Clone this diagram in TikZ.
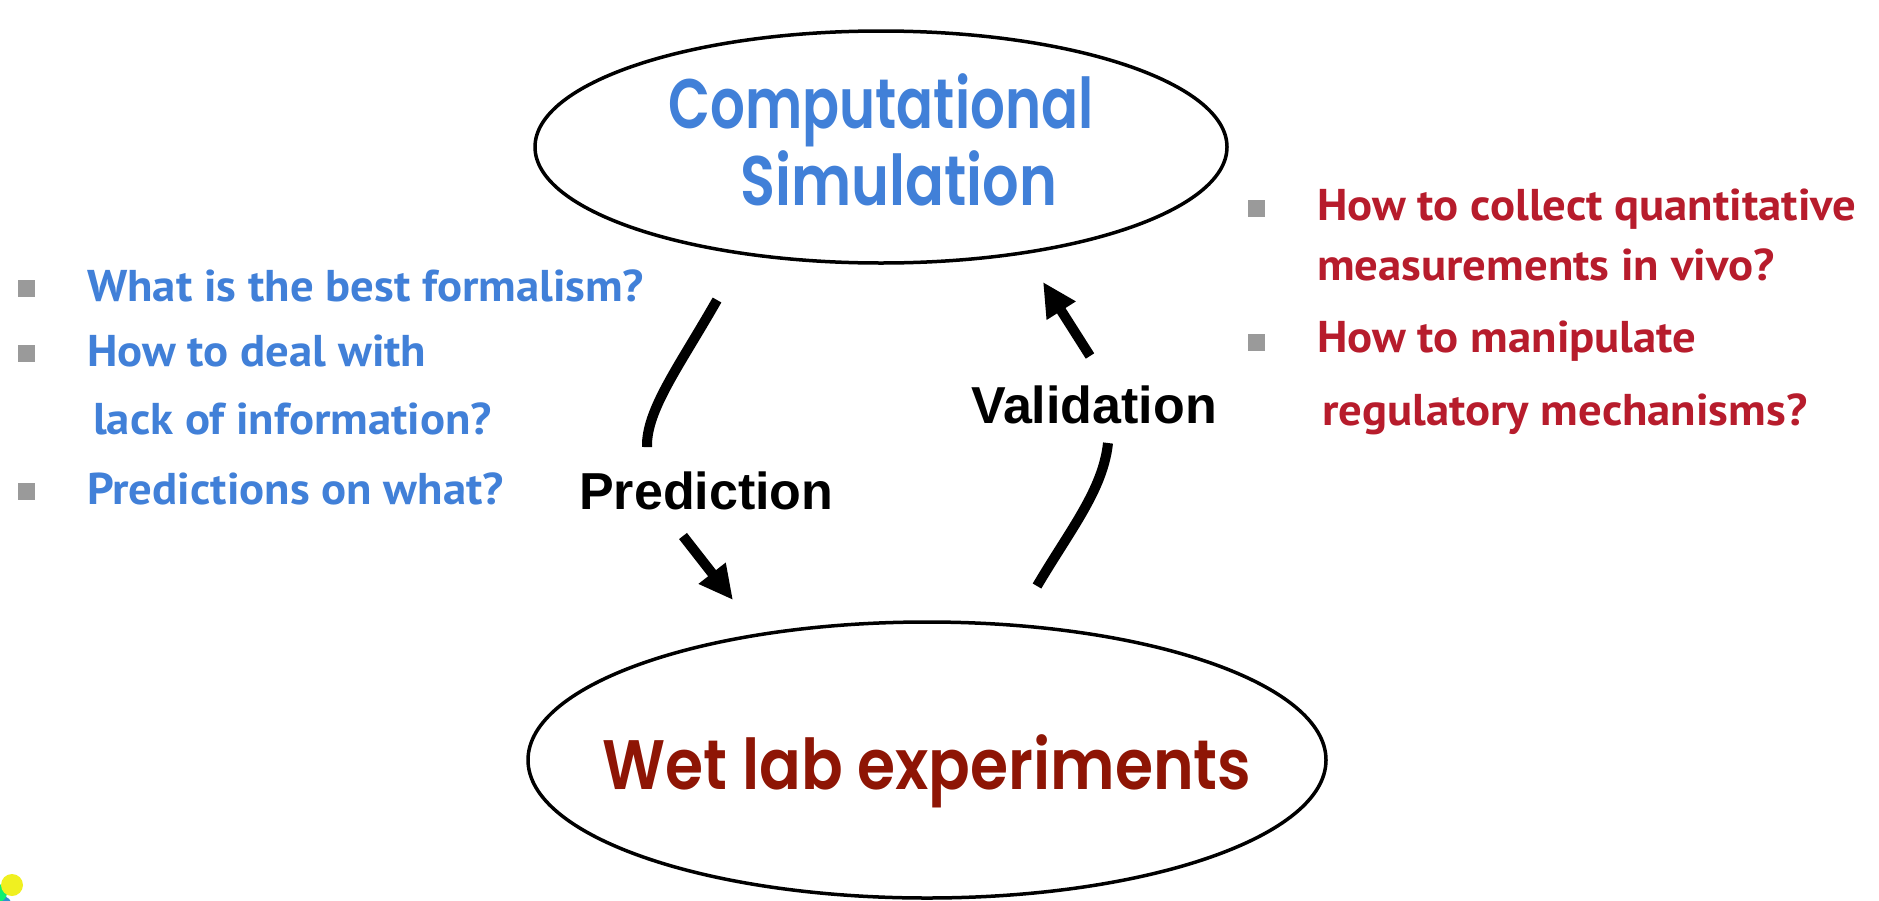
\documentclass[tikz,border=0pt]{standalone}
\usepackage{fontspec}
\setmainfont{PT Sans}
\newfontfamily\qfamily{PT Sans}[FakeStretch=1.05]
\newfontfamily\arialf{Liberation Sans}
\newfontfamily\comicf{Poppins SemiBold}
\usetikzlibrary{arrows.meta,shapes.geometric}
\definecolor{qblue}{HTML}{4180D8}
\definecolor{qred}{HTML}{B71C2C}
\definecolor{wetred}{HTML}{8E1505}
\definecolor{bulletgray}{HTML}{9A9A9A}
\definecolor{dotyellow}{HTML}{F0F020}
\definecolor{dotgreen}{HTML}{10F070}
\definecolor{dotblue}{HTML}{2F8FD0}
\newcommand\qfont{\qfamily\bfseries\fontsize{44.5}{50}\selectfont}
\newcommand\lblfont{\arialf\bfseries\fontsize{52}{60}\selectfont}
\begin{document}
\begin{tikzpicture}[x=1pt,y=-1pt,
  oval/.style={draw=black,line width=3.5pt,ellipse,inner sep=0pt,align=center},
  bul/.style={fill=bulletgray,minimum size=17pt,inner sep=0pt,draw=none},
  qleft/.style={anchor=base west,inner sep=0pt,text=qblue,font=\qfont},
  qright/.style={anchor=base west,inner sep=0pt,text=qred,font=\qfont},
  lbl/.style={anchor=base west,inner sep=0pt,font=\lblfont},
  flow/.style={line width=10pt,draw=black},
  flowhead/.style={flow,-{Triangle[length=34pt,width=32pt]}}
]
\useasboundingbox (0,0) rectangle (1879,900);
\fill[white] (0,0) rectangle (1879,900);

% ellipses
\node[oval,minimum width=692pt,minimum height=232pt,text=qblue,
      font=\comicf\fontsize{70}{77}\selectfont] (sim) at (881,147)
  {\makebox[0pt]{\scalebox{0.78}[1]{Computational}}\\\makebox[0pt]{\hspace{36pt}\scalebox{0.82}[1]{Simulation}}\rule[-15pt]{0pt}{0pt}};
\node[oval,minimum width=798pt,minimum height=276pt,text=wetred,
      font=\comicf\fontsize{70}{77}\selectfont] (wet) at (927,760)
  {\rule{0pt}{77pt}\makebox[0pt]{\scalebox{0.88}[1]{Wet lab experiments}}};

% labels
\node[lbl] (pred) at (579,509) {Prediction};
\node[lbl] (val) at (971,423) {Validation};

% arrow end points
\coordinate (p1) at (717,300);
\coordinate (p2) at (647,447);
\coordinate (p3) at (683,536);
\coordinate (p4) at (733,600);
\coordinate (v1) at (1037,586);
\coordinate (v2) at (1108,443);
\coordinate (v3) at (1090,356);
\coordinate (v4) at (1043,282);

\draw[flow] (p1) .. controls (680,365) and (646,410) .. (p2);
\draw[flowhead] (p3) -- (p4);
\draw[flow] (v1) .. controls (1070,530) and (1103,490) .. (v2);
\draw[flowhead] (v3) -- (v4);

% left questions
\node[bul] (lb1) at (26,288) {};
\node[bul] (lb2) at (26,353) {};
\node[bul] (lb3) at (26,491) {};
\node[qleft] (lq1) at (87,301) {What is the best formalism?};
\node[qleft] (lq2) at (87,366) {How to deal with};
\node[qleft] (lq3) at (93,434) {lack of information?};
\node[qleft] (lq4) at (87,504) {Predictions on what?};

% right questions
\node[bul] (rb1) at (1256,208) {};
\node[bul] (rb2) at (1256,342) {};
\node[qright] (rq1) at (1317,220) {How to collect quantitative};
\node[qright] (rq2) at (1317,280) {measurements in vivo?};
\node[qright] (rq3) at (1317,352) {How to manipulate};
\node[qright] (rq4) at (1322,425) {regulatory mechanisms?};

% corner dots
\begin{scope}
\clip (0,0) rectangle (1879,900);
\fill[dotblue] (2,906) circle (10);
\fill[dotgreen] (-2,893) circle (9);
\fill[dotyellow] (12,885) circle (11);
\end{scope}
\end{tikzpicture}
\end{document}
